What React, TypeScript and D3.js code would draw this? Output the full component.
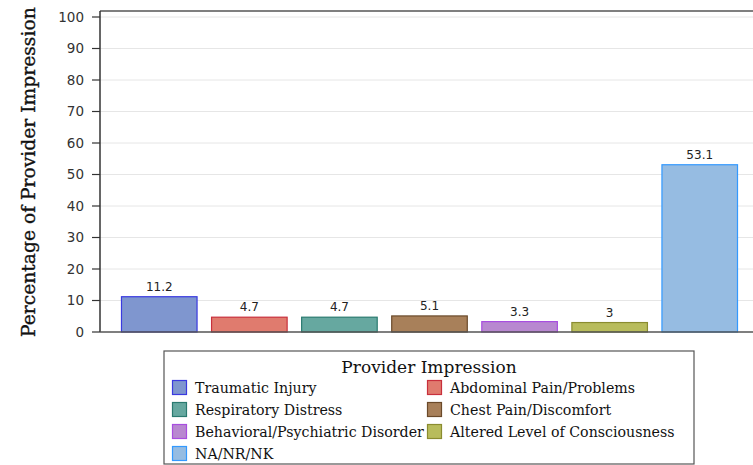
import { useRef, useEffect } from 'react'
import * as d3 from 'd3'

const categories = [
  'Traumatic Injury',
  'Abdominal Pain/Problems',
  'Respiratory Distress',
  'Chest Pain/Discomfort',
  'Behavioral/Psychiatric Disorder',
  'Altered Level of Consciousness',
  'NA/NR/NK',
]
const values = [11.2, 4.7, 4.7, 5.1, 3.3, 3, 53.1]
const fills = ['#7f96cf', '#e07b6e', '#66a8a0', '#a8805a', '#b888d0', '#b8bc5c', '#96bce2']
const strokes = ['#3a3ae0', '#c8303c', '#2a7a70', '#6b4a2a', '#a84ee0', '#8a8c30', '#3399ff']
const yTicks = [0, 10, 20, 30, 40, 50, 60, 70, 80, 90, 100]

const WIDTH = 753
const HEIGHT = 465
const SERIF = '"DejaVu Serif", serif'
const SANS = '"DejaVu Sans", sans-serif'

export default function App() {
  const ref = useRef<SVGSVGElement>(null)

  useEffect(() => {
    if (!ref.current) return
    const svg = d3.select(ref.current)
    svg.selectAll('*').remove()

    const left = 100
    const top = 11
    const bottom = 332

    const x = d3
      .scaleBand<string>()
      .domain(categories)
      .range([left, 759])
      .paddingInner(0.15)
      .paddingOuter(0.233)
    const y = d3.scaleLinear().domain([0, 100]).range([bottom, 17])

    // gridlines
    svg
      .append('g')
      .selectAll('line')
      .data(yTicks.slice(1))
      .enter()
      .append('line')
      .attr('x1', left)
      .attr('x2', WIDTH)
      .attr('y1', (d) => y(d))
      .attr('y2', (d) => y(d))
      .attr('stroke', '#e6e6e6')
      .attr('stroke-width', 1)

    // bars
    svg
      .append('g')
      .selectAll('rect')
      .data(values)
      .enter()
      .append('rect')
      .attr('x', (_, i) => x(categories[i])! + 0.5)
      .attr('y', (d) => y(d))
      .attr('width', x.bandwidth() - 1)
      .attr('height', (d) => bottom - y(d))
      .attr('fill', (_, i) => fills[i])
      .attr('stroke', (_, i) => strokes[i])
      .attr('stroke-width', 1.2)

    // bar labels
    svg
      .append('g')
      .selectAll('text')
      .data(values)
      .enter()
      .append('text')
      .attr('x', (_, i) => x(categories[i])! + x.bandwidth() / 2)
      .attr('y', (d) => y(d) - 6)
      .attr('text-anchor', 'middle')
      .attr('font-family', SANS)
      .attr('font-size', 12)
      .attr('fill', '#222')
      .text((d) => String(d))

    // frame / axes
    svg
      .append('line')
      .attr('x1', left)
      .attr('x2', WIDTH)
      .attr('y1', top)
      .attr('y2', top)
      .attr('stroke', '#555')
      .attr('stroke-width', 1.5)
    svg
      .append('line')
      .attr('x1', left)
      .attr('x2', left)
      .attr('y1', top)
      .attr('y2', bottom)
      .attr('stroke', '#333')
      .attr('stroke-width', 1.5)
    svg
      .append('line')
      .attr('x1', left)
      .attr('x2', WIDTH)
      .attr('y1', bottom)
      .attr('y2', bottom)
      .attr('stroke', '#555')
      .attr('stroke-width', 1.5)

    // y ticks
    const yAxis = svg.append('g')
    yAxis
      .selectAll('line')
      .data(yTicks)
      .enter()
      .append('line')
      .attr('x1', 92)
      .attr('x2', left)
      .attr('y1', (d) => y(d))
      .attr('y2', (d) => y(d))
      .attr('stroke', '#333')
      .attr('stroke-width', 1.2)
    yAxis
      .selectAll('text')
      .data(yTicks)
      .enter()
      .append('text')
      .attr('x', 84)
      .attr('y', (d) => y(d))
      .attr('dy', '0.36em')
      .attr('text-anchor', 'end')
      .attr('font-family', SANS)
      .attr('font-size', 13.5)
      .attr('fill', '#333')
      .text((d) => String(d))

    // y title, sized so it fits above the baseline
    const title = svg
      .append('text')
      .attr('transform', 'translate(35,337) rotate(-90)')
      .attr('text-anchor', 'start')
      .attr('font-family', SERIF)
      .attr('font-size', 20)
      .attr('fill', '#111')
      .attr('stroke', '#111')
      .attr('stroke-width', 0.35)
      .text('Percentage of Provider Impression')
    const natural = (title.node() as SVGTextElement).getComputedTextLength()
    if (natural > 330) title.attr('font-size', (20 * 330) / natural)

    // legend
    const lg = svg.append('g')
    lg.append('rect')
      .attr('x', 164)
      .attr('y', 351)
      .attr('width', 530)
      .attr('height', 113)
      .attr('fill', 'white')
      .attr('stroke', '#555')
      .attr('stroke-width', 1.2)
    lg.append('text')
      .attr('x', 429)
      .attr('y', 373)
      .attr('text-anchor', 'middle')
      .attr('font-family', SERIF)
      .attr('font-size', 17)
      .attr('fill', '#111')
      .text('Provider Impression')

    const items = lg
      .selectAll('g.item')
      .data(categories)
      .enter()
      .append('g')
      .attr('class', 'item')
      .attr('transform', (_, i) => `translate(${i % 2 === 0 ? 172 : 427},${380 + Math.floor(i / 2) * 22})`)
    items
      .append('rect')
      .attr('x', 0.5)
      .attr('y', 0.5)
      .attr('width', 14)
      .attr('height', 14)
      .attr('fill', (_, i) => fills[i])
      .attr('stroke', (_, i) => strokes[i])
      .attr('stroke-width', 1.2)
    items
      .append('text')
      .attr('x', 23)
      .attr('y', 12.5)
      .attr('font-family', SERIF)
      .attr('font-size', 14.2)
      .attr('fill', '#111')
      .text((d) => d)
  }, [])

  return (
    <svg
      ref={ref}
      width={WIDTH}
      height={HEIGHT}
      style={{ position: 'absolute', left: 0, top: 0, background: 'white' }}
    />
  )
}
